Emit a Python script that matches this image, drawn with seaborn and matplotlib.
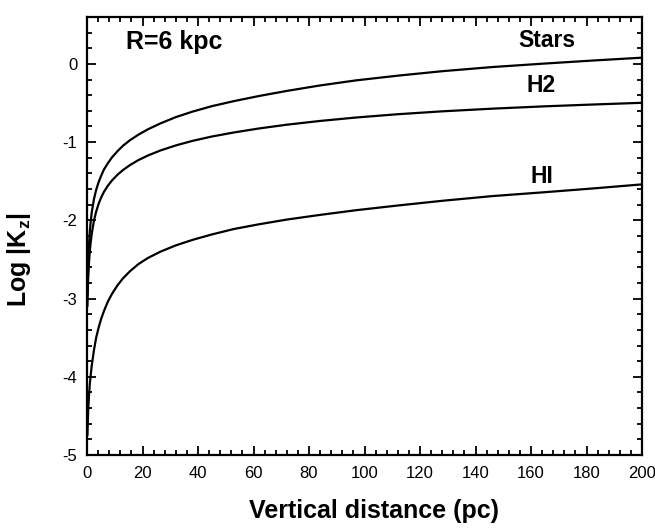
import numpy as np
import pandas as pd
import matplotlib
matplotlib.use("Agg")
import matplotlib.pyplot as plt
import seaborn as sns
from matplotlib.ticker import MultipleLocator

# --- data ---
z = [0.15, 0.4, 0.7, 1.0, 1.3, 1.7, 2.5, 3.3, 4.2, 5.1, 6.1, 7.5, 9, 11, 13, 15.5, 18.5,
     22, 26.5, 32, 38, 45, 53, 62, 72, 84, 97, 112, 128, 146, 165, 183, 200]

logk_stars = [-2.95, -2.58, -2.32, -2.15, -2.03, -1.90, -1.73, -1.61, -1.51, -1.43, -1.35,
              -1.27, -1.195, -1.115, -1.045, -0.975, -0.905, -0.835, -0.76, -0.68, -0.61,
              -0.54, -0.475, -0.41, -0.345, -0.275, -0.21, -0.15, -0.093, -0.04, 0.005,
              0.045, 0.08]

logk_h2 = [-3.1, -2.76, -2.55, -2.40, -2.29, -2.173, -2.006, -1.888, -1.787, -1.708, -1.636,
           -1.558, -1.49, -1.416, -1.356, -1.293, -1.23, -1.17, -1.106, -1.042, -0.984,
           -0.928, -0.876, -0.825, -0.777, -0.729, -0.685, -0.643, -0.606, -0.572, -0.542,
           -0.518, -0.497]

logk_hi = [-4.75, -4.45, -4.25, -4.10, -3.99, -3.86, -3.66, -3.50, -3.37, -3.26, -3.16,
           -3.04, -2.94, -2.83, -2.74, -2.65, -2.56, -2.48, -2.40, -2.32, -2.25, -2.18,
           -2.11, -2.05, -1.99, -1.93, -1.87, -1.81, -1.75, -1.69, -1.64, -1.59, -1.54]

labels = ["Stars", "H2", "HI"]
label_pos = [(165.6, 0.217), (163.8, -0.358), (164.1, -1.52)]
annotation = "R=6 kpc"

df = pd.concat([
    pd.DataFrame({"z": z, "logk": logk_stars, "comp": "Stars"}),
    pd.DataFrame({"z": z, "logk": logk_h2, "comp": "H2"}),
    pd.DataFrame({"z": z, "logk": logk_hi, "comp": "HI"}),
])

sns.set_theme(style="ticks")
plt.rcParams["font.family"] = ["Liberation Sans", "DejaVu Sans"]
plt.rcParams["mathtext.fontset"] = "custom"
plt.rcParams["mathtext.rm"] = "Liberation Sans:bold"
plt.rcParams["mathtext.it"] = "Liberation Sans:bold"
plt.rcParams["mathtext.bf"] = "Liberation Sans:bold"
plt.rcParams["axes.unicode_minus"] = False
plt.rcParams["text.color"] = "black"
plt.rcParams["axes.labelcolor"] = "black"

fig = plt.figure(figsize=(6.55, 5.28), dpi=100)
ax = fig.add_axes([87 / 655, 73 / 528, 555 / 655, 438 / 528])

sns.lineplot(data=df, x="z", y="logk", units="comp", estimator=None,
             color="black", lw=1.6, ax=ax, sort=False)

ax.set_xlim(0, 200)
ax.set_ylim(-5, 0.6)
ax.xaxis.set_major_locator(MultipleLocator(20))
ax.xaxis.set_minor_locator(MultipleLocator(4))
ax.yaxis.set_major_locator(MultipleLocator(1))
ax.yaxis.set_minor_locator(MultipleLocator(0.2))
ax.tick_params(which="both", direction="in", top=True, right=True, width=1.3,
               color="black", labelsize=12, labelcolor="black")
ax.tick_params(axis="x", which="major", pad=8)
ax.tick_params(axis="y", which="major", pad=7)
ax.tick_params(which="major", length=6.5)
ax.tick_params(which="minor", length=3.5)
for s in ax.spines.values():
    s.set_linewidth(1.6)
    s.set_color("black")

ax.set_xlabel("Vertical distance (pc)", fontsize=18, fontweight="bold")
ax.xaxis.set_label_coords(0.517, -0.144)
ax.xaxis.label.set_va("baseline")
ax.set_ylabel(r"Log |K$_\mathrm{z}$|", fontsize=18, fontweight="bold")
ax.yaxis.set_label_coords(-0.1225, 0.447)
ax.yaxis.label.set_va("center")

ax.text(14.0, 0.19, annotation, fontsize=18, fontweight="bold", ha="left", va="baseline")
for lab, (xp, yp) in zip(labels, label_pos):
    ax.text(xp, yp, lab, fontsize=16.5, fontweight="bold", ha="center", va="baseline")

fig.savefig("out.png", dpi=100)
